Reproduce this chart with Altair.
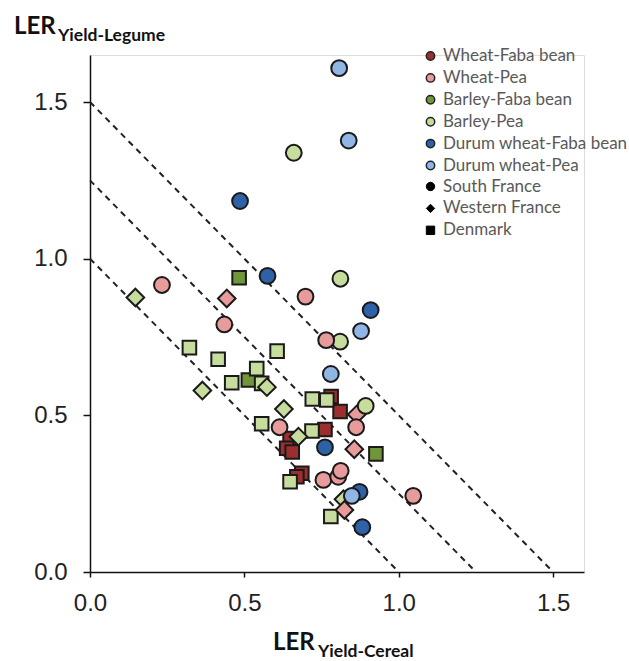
import altair as alt
import pandas as pd

# Intercrop combinations and their colours
crops = ["Wheat-Faba bean", "Wheat-Pea", "Barley-Faba bean", "Barley-Pea",
         "Durum wheat-Faba bean", "Durum wheat-Pea"]
crop_colors = ["#9b2e2e", "#e89b9b", "#70953a", "#c7dd9e", "#2f61a6", "#8fb6e4"]

# Sites and their marker shapes / sizes
sites = ["South France", "Western France", "Denmark"]
site_shapes = ["circle", "diamond", "square"]
site_sizes = [250, 310, 185]

# Wheat-Faba bean
wfb_dk_x = [0.781, 0.810, 0.761, 0.648, 0.637, 0.655, 0.686, 0.670]
wfb_dk_y = [0.560, 0.512, 0.455, 0.426, 0.395, 0.383, 0.315, 0.304]

# Barley-Faba bean
bfb_dk_x = [0.483, 0.513, 0.926]
bfb_dk_y = [0.939, 0.613, 0.377]

# Barley-Pea
bp_sf_x = [0.660, 0.811, 0.810, 0.893]
bp_sf_y = [1.338, 0.936, 0.735, 0.530]
bp_wf_x = [0.147, 0.364, 0.573, 0.628, 0.675, 0.821]
bp_wf_y = [0.876, 0.579, 0.590, 0.520, 0.432, 0.232]
bp_dk_x = [0.322, 0.415, 0.606, 0.540, 0.459, 0.556, 0.720, 0.767, 0.556, 0.719, 0.648, 0.780]
bp_dk_y = [0.716, 0.679, 0.705, 0.649, 0.604, 0.602, 0.552, 0.549, 0.473, 0.450, 0.288, 0.177]

# Wheat-Pea
wp_sf_x = [0.233, 0.698, 0.435, 0.765, 0.862, 0.614, 0.756, 0.804, 0.812, 1.047]
wp_sf_y = [0.916, 0.879, 0.790, 0.740, 0.462, 0.462, 0.294, 0.304, 0.323, 0.243]
wp_wf_x = [0.443, 0.864, 0.856, 0.824]
wp_wf_y = [0.873, 0.503, 0.392, 0.198]

# Durum wheat-Faba bean
dfb_sf_x = [0.486, 0.575, 0.909, 0.761, 0.873, 0.882]
dfb_sf_y = [1.184, 0.945, 0.836, 0.398, 0.256, 0.143]

# Durum wheat-Pea
dp_sf_x = [0.807, 0.838, 0.878, 0.780, 0.848]
dp_sf_y = [1.608, 1.377, 0.769, 0.632, 0.243]

# Total LER iso-lines (x + y = c)
iso_totals = [1.0, 1.25, 1.5]

tick_values = [0.0, 0.5, 1.0, 1.5]

series = [
    ("Wheat-Faba bean", "Denmark", wfb_dk_x, wfb_dk_y),
    ("Barley-Faba bean", "Denmark", bfb_dk_x, bfb_dk_y),
    ("Barley-Pea", "Denmark", bp_dk_x, bp_dk_y),
    ("Barley-Pea", "Western France", bp_wf_x, bp_wf_y),
    ("Barley-Pea", "South France", bp_sf_x, bp_sf_y),
    ("Wheat-Pea", "South France", wp_sf_x, wp_sf_y),
    ("Wheat-Pea", "Western France", wp_wf_x, wp_wf_y),
    ("Durum wheat-Faba bean", "South France", dfb_sf_x, dfb_sf_y),
    ("Durum wheat-Pea", "South France", dp_sf_x, dp_sf_y),
]

rows = []
order = 0
for crop, site, xs, ys in series:
    for xv, yv in zip(xs, ys):
        rows.append({"crop": crop, "site": site, "cereal": xv, "legume": yv, "order": order})
        order += 1
points_df = pd.DataFrame(rows)

iso_rows = []
for c in iso_totals:
    iso_rows.append({"total": c, "cereal": 0.0, "legume": c})
    iso_rows.append({"total": c, "cereal": c, "legume": 0.0})
iso_df = pd.DataFrame(iso_rows)

x_scale = alt.Scale(domain=[0, 1.6], nice=False, zero=True)
y_scale = alt.Scale(domain=[0, 1.65], nice=False, zero=True)

x_axis = alt.Axis(values=tick_values, format=".1f", title=None, grid=False,
                  domainColor="#111", domainWidth=1.5, tickColor="#111", tickWidth=1.5,
                  tickSize=5, labelFont="Liberation Sans", labelFontSize=24,
                  labelColor="#222", labelPadding=14, labelFlush=False)
y_axis = alt.Axis(values=tick_values, format=".1f", title=None, grid=False,
                  domainColor="#111", domainWidth=1.5, tickColor="#111", tickWidth=1.5,
                  tickSize=7, labelFont="Liberation Sans", labelFontSize=24,
                  labelColor="#222", labelPadding=16, labelFlush=False)

iso_lines = alt.Chart(iso_df).mark_line(
    color="#222", strokeWidth=2, strokeDash=[6, 5]
).encode(
    x=alt.X("cereal:Q", scale=x_scale, axis=x_axis),
    y=alt.Y("legume:Q", scale=y_scale, axis=y_axis),
    detail="total:N",
)

legend_common = dict(
    orient="none", legendX=332, title=None, padding=0, symbolSize=70,
    labelFont="Lato", labelFontSize=17, labelColor="#595959", labelLimit=300,
    rowPadding=3.9, labelOffset=4,
)

color_enc = alt.Color(
    "crop:N",
    scale=alt.Scale(domain=crops, range=crop_colors),
    legend=alt.Legend(legendY=-7.5, symbolType="circle", symbolStrokeColor="#222",
                      symbolStrokeWidth=1.5, **legend_common),
)
shape_enc = alt.Shape(
    "site:N",
    scale=alt.Scale(domain=sites, range=site_shapes),
    legend=alt.Legend(legendY=123, symbolFillColor="#000", symbolStrokeColor="#000",
                      symbolStrokeWidth=1, **legend_common),
)

# One point layer per site so each marker shape gets its own size
point_layers = []
for site, size in zip(sites, site_sizes):
    point_layers.append(
        alt.Chart(points_df).transform_filter(alt.datum.site == site).mark_point(
            filled=True, opacity=1, stroke="#1a1a1a", strokeWidth=2, size=size
        ).encode(
            x=alt.X("cereal:Q", scale=x_scale),
            y=alt.Y("legume:Q", scale=y_scale),
            color=color_enc,
            shape=shape_enc,
            order=alt.Order("order:Q"),
        )
    )

# Axis titles with subscripts
title_main = ["LER", "LER"]
title_sub = ["Yield-Legume", "Yield-Cereal"]

def text_layer(label, size, xpos, ypos):
    return alt.Chart(pd.DataFrame({"label": [label]})).mark_text(
        font="Lato", fontWeight="bold", fontSize=size, align="left",
        baseline="alphabetic", color="#111"
    ).encode(text="label:N", x=alt.value(xpos), y=alt.value(ypos))

titles = (
    text_layer(title_main[0], 24, -76, -21)
    + text_layer(title_sub[0], 17.5, -32, -14)
    + text_layer(title_main[1], 24, 183, 595)
    + text_layer(title_sub[1], 17.5, 228, 602)
)

chart = alt.layer(iso_lines, point_layers[2], point_layers[1], point_layers[0], titles).properties(
    width=494, height=517,
    autosize=alt.AutoSizeParams(type="none"),
    padding={"left": 90, "top": 55, "right": 45, "bottom": 89},
).configure_view(stroke=None).configure(background="white")

chart.save("out.html", embed_options={"renderer": "svg", "actions": False})
